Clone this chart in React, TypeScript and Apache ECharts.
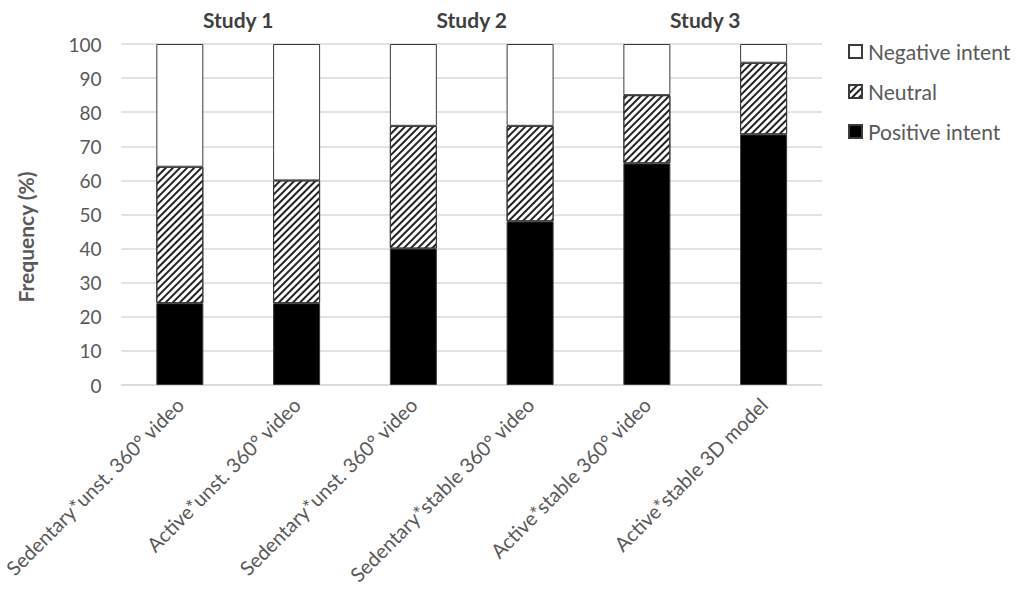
import React, { useEffect, useRef } from "react";
import * as echarts from "echarts";

const categories = [
  "Sedentary*unst. 360° video",
  "Active*unst. 360° video",
  "Sedentary*unst. 360° video",
  "Sedentary*stable 360° video",
  "Active*stable 360° video",
  "Active*stable 3D model",
];
const studies = ["Study 1", "Study 2", "Study 3"];
const positiveIntent = [24, 24, 40, 48, 65, 73.5];
const neutral = [40, 36, 36, 28, 20, 21];
const negativeIntent = [36, 40, 24, 24, 15, 5.5];
const yTicks = { min: 0, max: 100, interval: 10 };
const yTitle = "Frequency (%)";

const FONT = "Lato, 'Open Sans', sans-serif";
const GREY = "#595959";

export default function App() {
  const ref = useRef<HTMLDivElement>(null);
  useEffect(() => {
    const chart = echarts.init(ref.current!, null, { renderer: "svg" });
    const border = { borderColor: "#3a3a3a", borderWidth: 1 };
    chart.setOption({
      animation: false,
      backgroundColor: "#ffffff",
      textStyle: { fontFamily: FONT },
      grid: { left: 118, right: 202, top: 44, bottom: 221, containLabel: false },
      graphic: [
        {
          type: "text",
          x: 25,
          y: 237,
          rotation: Math.PI / 2,
          style: {
            text: yTitle,
            fill: GREY,
            font: `bold 21px ${FONT}`,
            align: "center",
            verticalAlign: "middle",
          },
        },
      ],
      legend: {
        orient: "vertical",
        left: 843,
        top: 36,
        itemGap: 19,
        itemWidth: 13,
        itemHeight: 13,
        icon: "rect",
        data: ["Negative intent", "Neutral", "Positive intent"],
        textStyle: { color: GREY, fontSize: 21, fontFamily: FONT, padding: [0, 0, 0, 1] },
      },
      xAxis: [
        {
          type: "category",
          data: categories,
          axisLine: { lineStyle: { color: "#d9d9d9", width: 1.5 } },
          axisTick: { show: false },
          axisLabel: {
            rotate: 45,
            color: GREY,
            fontSize: 20,
            fontFamily: FONT,
            interval: 0,
            margin: 16,
          },
        },
        {
          type: "category",
          position: "top",
          data: studies,
          axisLine: { show: false },
          axisTick: { show: false },
          axisLabel: { color: "#404040", fontSize: 21, fontWeight: "bold", fontFamily: FONT, margin: 14 },
        },
      ],
      yAxis: {
        type: "value",
        min: yTicks.min,
        max: yTicks.max,
        interval: yTicks.interval,
        axisLine: { show: false },
        axisTick: { show: false },
        axisLabel: { color: GREY, fontSize: 19, fontFamily: FONT, margin: 20 },
        splitLine: { lineStyle: { color: "#d9d9d9", width: 1.5 } },
      },
      series: [
        {
          name: "Positive intent",
          type: "bar",
          stack: "a",
          barWidth: 47,
          data: positiveIntent,
          itemStyle: { color: "#000000", ...border },
        },
        {
          name: "Neutral",
          type: "bar",
          stack: "a",
          barWidth: 47,
          data: neutral,
          itemStyle: {
            color: "#ffffff",
            ...border,
            decal: {
              symbol: "rect",
              symbolSize: 1,
              color: "#222222",
              backgroundColor: "#ffffff",
              dashArrayX: [1, 0],
              dashArrayY: [1.2, 2.2],
              rotation: -Math.PI / 4,
            },
          },
        },
        {
          name: "Negative intent",
          type: "bar",
          stack: "a",
          barWidth: 47,
          data: negativeIntent,
          itemStyle: { color: "#ffffff", ...border },
        },
      ],
    });
    return () => chart.dispose();
  }, []);
  return <div ref={ref} style={{ width: 1024, height: 606, position: "absolute", left: 0, top: 0 }} />;
}
